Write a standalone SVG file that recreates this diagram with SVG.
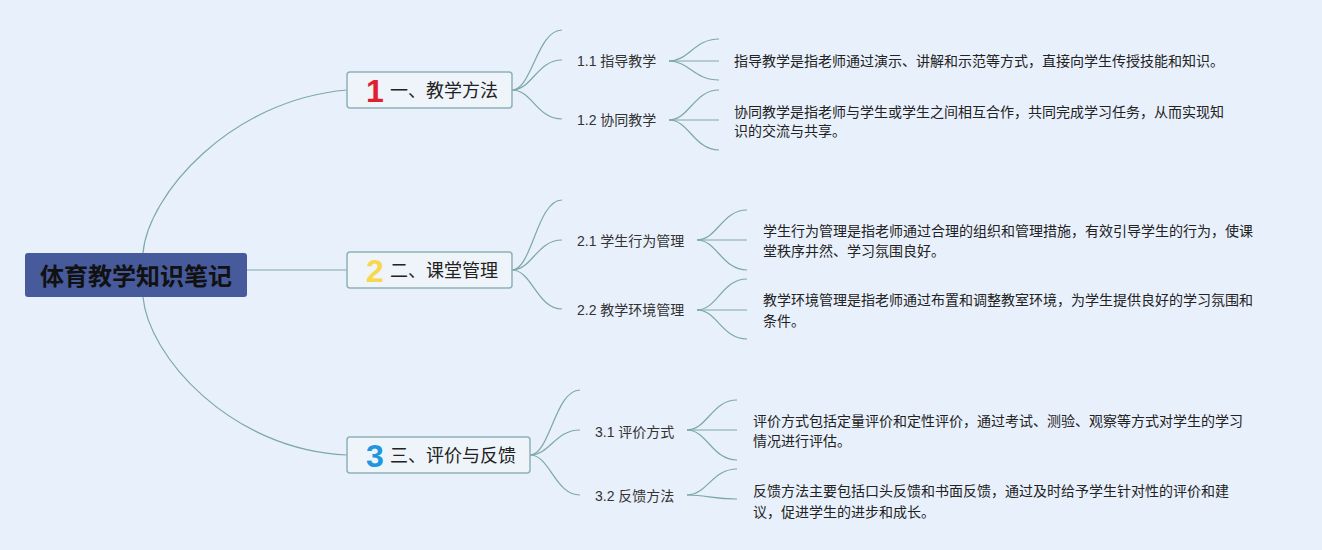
<svg xmlns="http://www.w3.org/2000/svg" width="1322" height="550" viewBox="0 0 1322 550">
<style>
.bg{fill:#e8f0fb}
.conn path{fill:none;stroke:#7da8a8;stroke-width:1.2}
.root rect{fill:#475a9b}
.root text{font-family:"Liberation Sans","Noto Sans CJK SC",sans-serif;font-size:24px;font-weight:bold;fill:#111}
.br rect{fill:#eef4f9;stroke:#8db3b6;stroke-width:1.5}
.br text{font-family:"Liberation Sans","Noto Sans CJK SC",sans-serif;font-size:18px;fill:#222;dominant-baseline:central}
.br text.num{font-size:32px;font-weight:bold;dominant-baseline:auto;text-anchor:middle}
.lf text{font-family:"Liberation Sans","Noto Sans CJK SC",sans-serif;font-size:14px;fill:#333;dominant-baseline:central}
.ds text{font-family:"Liberation Sans","Noto Sans CJK SC",sans-serif;font-size:14px;fill:#222;dominant-baseline:central}
</style>
<rect class="bg" x="0" y="0" width="1322" height="550"/>
<g id="connectors" class="conn">
<path d="M143,253 C148,195 230,100 347,90"/>
<path d="M246,270 L347,270"/>
<path d="M143,297 C148,355 230,450 347,455"/>
<path d="M512,90 C532,90 537,30 562,30"/>
<path d="M512,90 C532,90 537,60 562,60"/>
<path d="M512,90 C532,90 537,119 562,119"/>
<path d="M669,61 C689,61 694,39 719,39"/>
<path d="M669,61 L719,61"/>
<path d="M669,61 C689,61 694,80 719,80"/>
<path d="M669,120 C689,120 694,90 719,90"/>
<path d="M669,120 L719,120"/>
<path d="M669,120 C689,120 694,150 719,150"/>
<path d="M512,270 C532,270 537,200 562,200"/>
<path d="M512,270 C532,270 537,240 562,240"/>
<path d="M512,270 C532,270 537,309 562,309"/>
<path d="M697,240 C717,240 722,210 747,210"/>
<path d="M697,240 L747,240"/>
<path d="M697,240 C717,240 722,270 747,270"/>
<path d="M697,310 C717,310 722,279 747,279"/>
<path d="M697,310 L747,310"/>
<path d="M697,310 C717,310 722,339 747,339"/>
<path d="M530,455 C550,455 555,390 580,390"/>
<path d="M530,455 C550,455 555,430 580,430"/>
<path d="M530,455 C550,455 555,495 580,495"/>
<path d="M687,430 C707,430 712,400 737,400"/>
<path d="M687,430 L737,430"/>
<path d="M687,430 C707,430 712,460 737,460"/>
<path d="M687,495 C707,495 712,469 737,469"/>
<path d="M687,495 C707,495 712,499 737,499"/>
</g>
<g id="root" class="root">
<rect x="25" y="253" width="222" height="44" rx="3"/>
<text x="136" y="285" text-anchor="middle">体育教学知识笔记</text>
</g>
<g id="b1" class="br">
<rect x="347" y="72" width="165" height="36" rx="3"/>
<text class="num" x="375" y="102" fill="#e0202e" style="fill:#e0202e">1</text>
<text x="390" y="91">一、教学方法</text>
</g>
<g id="b2" class="br">
<rect x="347" y="252" width="165" height="36" rx="3"/>
<text class="num" x="375" y="282" style="fill:#f7d84a">2</text>
<text x="390" y="271">二、课堂管理</text>
</g>
<g id="b3" class="br">
<rect x="347" y="437" width="183" height="36" rx="3"/>
<text class="num" x="375" y="467" style="fill:#2196e0">3</text>
<text x="390" y="456">三、评价与反馈</text>
</g>
<g id="l11" class="lf"><text x="577" y="61">1.1 指导教学</text></g>
<g id="l12" class="lf"><text x="577" y="120">1.2 协同教学</text></g>
<g id="l21" class="lf"><text x="577" y="241">2.1 学生行为管理</text></g>
<g id="l22" class="lf"><text x="577" y="310">2.2 教学环境管理</text></g>
<g id="l31" class="lf"><text x="595" y="432">3.1 评价方式</text></g>
<g id="l32" class="lf"><text x="595" y="496">3.2 反馈方法</text></g>
<g id="d11" class="ds"><text x="734" y="61">指导教学是指老师通过演示、讲解和示范等方式，直接向学生传授技能和知识。</text></g>
<g id="d12" class="ds"><text x="734" y="112">协同教学是指老师与学生或学生之间相互合作，共同完成学习任务，从而实现知</text><text x="734" y="131">识的交流与共享。</text></g>
<g id="d21" class="ds"><text x="763" y="231">学生行为管理是指老师通过合理的组织和管理措施，有效引导学生的行为，使课</text><text x="763" y="251">堂秩序井然、学习氛围良好。</text></g>
<g id="d22" class="ds"><text x="763" y="300">教学环境管理是指老师通过布置和调整教室环境，为学生提供良好的学习氛围和</text><text x="763" y="321">条件。</text></g>
<g id="d31" class="ds"><text x="753" y="421">评价方式包括定量评价和定性评价，通过考试、测验、观察等方式对学生的学习</text><text x="753" y="441">情况进行评估。</text></g>
<g id="d32" class="ds"><text x="753" y="491">反馈方法主要包括口头反馈和书面反馈，通过及时给予学生针对性的评价和建</text><text x="753" y="512">议，促进学生的进步和成长。</text></g>
</svg>
